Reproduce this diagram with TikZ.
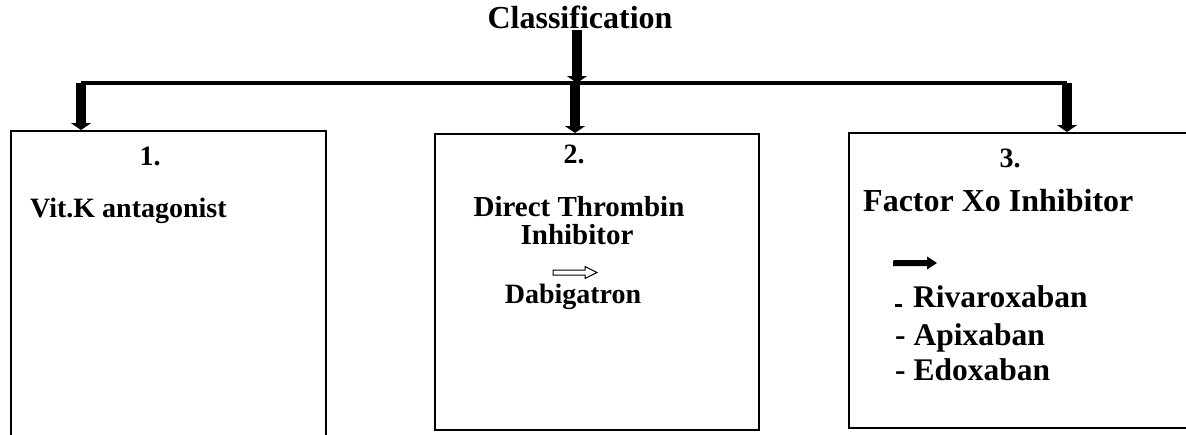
\documentclass[tikz,border=0pt]{standalone}
\usepackage{fontspec}
\setmainfont{Liberation Serif}
\usetikzlibrary{arrows.meta}
\tikzset{
  box/.style={draw=black, line width=2pt, anchor=north west, inner sep=0pt},
  lbl/.style={inner sep=0pt, font=\bfseries\fontsize{28}{30}\selectfont},
  big/.style={inner sep=0pt, font=\bfseries\fontsize{32}{34}\selectfont},
  bar/.style={line width=4.5pt, rounded corners=4pt},
  fat/.style={line width=10pt, -{Triangle[length=7pt,width=20pt]}},
}
\begin{document}
\begin{tikzpicture}[x=1pt,y=-1pt]
\useasboundingbox (0,0) rectangle (1186,434);
\fill[white] (0,0) rectangle (1186,434);
\begin{scope}
\clip (0,0) rectangle (1186,434);
% boxes
\node[box, minimum width=315pt, minimum height=330pt] (b1) at (10,130) {};
\node[box, minimum width=324pt, minimum height=296pt] (b2) at (434,133) {};
\node[box, minimum width=360pt, minimum height=295pt] (b3) at (848,132) {};
\end{scope}
% title
\node[big, anchor=base] (cls) at (580,28) {Classification};
% bar
\coordinate (barL) at (81,83);
\coordinate (barM) at (575,83);
\coordinate (barR) at (1067,83);
\coordinate (clsS) at (577,30);
\draw[bar] (barL) -- (barR);
\draw[fat] (clsS) -- (clsS |- barM);
\draw[fat] (barL) -- (barL |- b1.north);
\draw[fat] (barM) -- (barM |- b2.north);
\draw[fat] (barR) -- (barR |- b3.north);
% box 1
\node[lbl, anchor=base] (n1) at (150,165) {1.};
\node[lbl, anchor=base west] (t1) at (30,217) {Vit.K antagonist};
% box 2
\node[lbl, anchor=base] (n2) at (574,163) {2.};
\node[lbl, anchor=base, font=\bfseries\fontsize{29}{30}\selectfont] (t2a) at (579,216) {Direct Thrombin};
\node[lbl, anchor=base, font=\bfseries\fontsize{29}{30}\selectfont] (t2b) at (577,244) {Inhibitor};
\draw[line width=1pt, line join=miter] (553,270) -- (585,270) -- (585,266.5) -- (597,272.5) -- (585,278.5) -- (585,275) -- (553,275) -- cycle;
\node[lbl, anchor=base] (t2c) at (573,303) {Dabigatron};
% box 3
\node[lbl, anchor=base] (n3) at (1010,167) {3.};
\node[big, anchor=base west] (t3) at (863,211) {Factor Xo Inhibitor};
\fill (893,260) -- (927,260) -- (927,256.5) -- (937,263) -- (927,269.5) -- (927,266) -- (893,266) [rounded corners=1pt] -- cycle;
\node[big, anchor=base west, font=\bfseries\fontsize{31.5}{33}\selectfont] (d1) at (895,307) {\rule{7pt}{3.5pt}\hspace{11pt}Rivaroxaban};
\node[big, anchor=base west, font=\bfseries\fontsize{31.5}{33}\selectfont] (d2) at (895,345) {- Apixaban};
\node[big, anchor=base west, font=\bfseries\fontsize{31.5}{33}\selectfont] (d3) at (895,380) {- Edoxaban};
\end{tikzpicture}
\end{document}
